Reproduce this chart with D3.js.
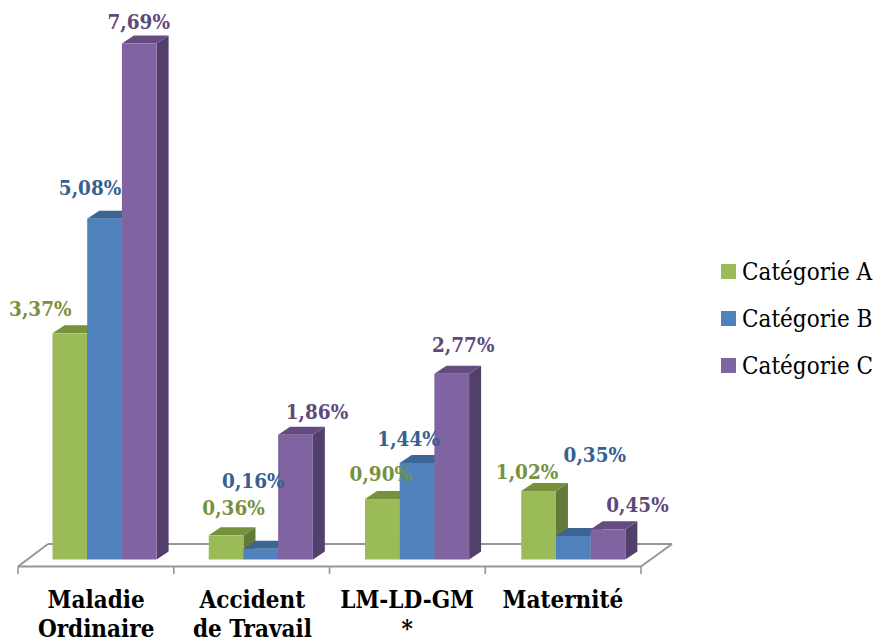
<!DOCTYPE html>
<html>
<head>
<meta charset="utf-8">
<script src="https://cdn.jsdelivr.net/npm/d3@7/dist/d3.min.js"></script>
<style>
html,body{margin:0;padding:0;background:#fff}
svg{display:block}
text{font-family:"DejaVu Serif Condensed","DejaVu Serif",serif;font-stretch:condensed}
</style>
</head>
<body>
<svg id="chart" width="877" height="643"></svg>
<script>
const categories = [["Maladie","Ordinaire"],["Accident","de Travail"],["LM-LD-GM","*"],["Maternité"]];
const seriesNames = ["Catégorie A","Catégorie B","Catégorie C"];
const valuesA = [3.37,0.36,0.90,1.02];
const valuesB = [5.08,0.16,1.44,0.35];
const valuesC = [7.69,1.86,2.77,0.45];
const seriesValues = [valuesA,valuesB,valuesC];

const front = ["#9BBB59","#4F81BD","#8064A2"];
const topFace = ["#76923C","#3C6594","#644B80"];
const sideFace = ["#65793A","#365A85","#53406A"];
const labelColor = ["#76923C","#366092","#5F497A"];

// Label displacement from the top centre of each bar's front face: [dx, dy of the text centre]
const labelShiftA = [[-29,-24],[8,-27],[-1,-25],[-11,-19]];
const labelShiftB = [[-14,-31],[-7,-68],[-8,-24],[22,-81]];
const labelShiftC = [[0,-22],[22,-23],[12,-29],[30,-24]];
const shifts = [labelShiftA,labelShiftB,labelShiftC];
const categoryShift = [0,0,-1.5,-2];

const svg = d3.select("#chart");
const depthX = 12, depthY = 8;

const groupX = d3.scaleBand().domain(d3.range(categories.length)).range([18,643]).paddingInner(0).paddingOuter(0);
const y = d3.scaleLinear().domain([0,7.69]).range([559.5,43.5]);
const barW = 34.7;
const barX = (g,s) => groupX(g) + 34.5 + s*barW;

// Floor of the 3D plot
const floorFront = 566.5, floorBack = 544, floorL = 18, floorR = 641;
svg.append("g").selectAll("line")
  .data([
    [floorL,floorFront,floorR,floorFront],
    [floorL+30,floorBack,floorR+31,floorBack],
    [floorL,floorFront,floorL+30,floorBack],
    [floorR,floorFront,floorR+31,floorBack]
  ])
  .join("line")
  .attr("x1",d=>d[0]).attr("y1",d=>d[1]).attr("x2",d=>d[2]).attr("y2",d=>d[3])
  .attr("stroke","#969696").attr("stroke-width",2);

// Axis ticks at the group boundaries
const tickXs = d3.range(categories.length+1).map(i=>floorL + i*(floorR-floorL)/categories.length);
svg.append("g").selectAll("line").data(tickXs).join("line")
  .attr("x1",d=>d).attr("x2",d=>d).attr("y1",floorFront).attr("y2",574)
  .attr("stroke","#969696").attr("stroke-width",1.6);

// Bars: series drawn left to right so nearer faces cover the depth of earlier ones
categories.forEach((c,g)=>{
  seriesValues.forEach((vals,s)=>{
    const x0 = barX(g,s), x1 = x0+barW, yt = y(vals[g]), yb = y(0);
    const bar = svg.append("g");
    bar.append("path").attr("fill",sideFace[s])
      .attr("d",`M${x1},${yt}L${x1+depthX},${yt-depthY}L${x1+depthX},${yb-depthY}L${x1},${yb}Z`);
    bar.append("path").attr("fill",topFace[s])
      .attr("d",`M${x0},${yt}L${x0+depthX},${yt-depthY}L${x1+depthX},${yt-depthY}L${x1},${yt}Z`);
    bar.append("rect").attr("fill",front[s])
      .attr("x",x0).attr("y",yt).attr("width",barW).attr("height",yb-yt);
  });
});

// Value labels
const fmt = v => v.toFixed(2).replace(".",",")+"%";
categories.forEach((c,g)=>{
  seriesValues.forEach((vals,s)=>{
    svg.append("text")
      .attr("x",barX(g,s)+barW/2+shifts[s][g][0]-0.5)
      .attr("y",y(vals[g])+shifts[s][g][1])
      .attr("text-anchor","middle").attr("dominant-baseline","central")
      .attr("font-size",20.5).attr("font-weight","bold")
      .attr("fill",labelColor[s]).text(fmt(vals[g]));
  });
});

// Category labels
categories.forEach((lines,g)=>{
  lines.forEach((t,i)=>{
    svg.append("text")
      .attr("x",groupX(g)+groupX.bandwidth()/2+categoryShift[g])
      .attr("y",599+i*29)
      .attr("text-anchor","middle").attr("dominant-baseline","central")
      .attr("font-size",24).attr("font-weight","bold").attr("fill","#000")
      .text(t);
  });
});

// Legend
const legendY = d3.scalePoint().domain(seriesNames).range([271.5,365.5]);
const legend = svg.append("g");
seriesNames.forEach((n,s)=>{
  legend.append("rect").attr("x",721).attr("y",legendY(n)-7.5).attr("width",15).attr("height",15).attr("fill",front[s]);
  legend.append("text").attr("x",742).attr("y",legendY(n))
    .attr("dominant-baseline","central").attr("font-size",24).attr("fill","#000").text(n);
});
</script>
</body>
</html>
